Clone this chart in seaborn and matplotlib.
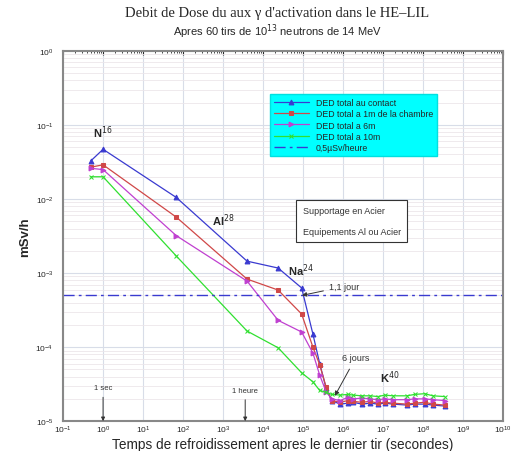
import numpy as np
import pandas as pd
import seaborn as sns
import matplotlib.pyplot as plt
from matplotlib.ticker import LogLocator, NullFormatter

# temps apres le dernier tir (s)
temps = [0.5, 1, 68, 4000, 24000, 93000, 178000, 263000, 380000, 525000,
         850000, 1.35e6, 1.78e6, 3.0e6, 4.8e6, 7.6e6, 1.12e7, 1.78e7,
         4.0e7, 6.3e7, 1.12e8, 1.78e8, 3.55e8]

ded_contact = [0.033, 0.047, 0.0105, 1.45e-3, 1.17e-3, 6.3e-4, 1.5e-4, 6.0e-5,
               2.8e-5, 1.9e-5, 1.7e-5, 1.75e-5, 1.8e-5, 1.7e-5, 1.75e-5, 1.7e-5,
               1.75e-5, 1.7e-5, 1.65e-5, 1.7e-5, 1.7e-5, 1.65e-5, 1.6e-5]
ded_1m = [0.027, 0.029, 5.7e-3, 8.3e-4, 5.9e-4, 2.8e-4, 1.0e-4, 5.8e-5,
          2.9e-5, 1.9e-5, 1.8e-5, 1.9e-5, 1.85e-5, 1.8e-5, 1.85e-5, 1.75e-5,
          1.8e-5, 1.75e-5, 1.7e-5, 1.75e-5, 1.8e-5, 1.7e-5, 1.65e-5]
ded_6m = [0.026, 0.025, 3.2e-3, 7.8e-4, 2.3e-4, 1.6e-4, 8.3e-5, 4.2e-5,
          2.5e-5, 2.0e-5, 1.9e-5, 2.1e-5, 2.0e-5, 2.05e-5, 2.0e-5, 1.95e-5,
          2.0e-5, 1.95e-5, 1.95e-5, 2.0e-5, 2.0e-5, 1.95e-5, 1.9e-5]
ded_10m = [0.020, 0.020, 1.7e-3, 1.65e-4, 9.8e-5, 4.5e-5, 3.4e-5, 2.6e-5,
           2.45e-5, 2.3e-5, 2.25e-5, 2.3e-5, 2.25e-5, 2.2e-5, 2.2e-5, 2.15e-5,
           2.25e-5, 2.2e-5, 2.2e-5, 2.3e-5, 2.35e-5, 2.2e-5, 2.15e-5]
limite = 5e-4  # 0,5 uSv/h en mSv/h

series = [
    ("DED total au contact", ded_contact, "#3a3ad0", "^", 3.5),
    ("DED total a 1m de la chambre", ded_1m, "#d04848", "s", 2.8),
    ("DED total a 6m", ded_6m, "#c040d0", ">", 3.5),
    ("DED total a 10m", ded_10m, "#30e030", "x", 2.8),
]

sns.set_style("white")
plt.rcParams['font.family'] = ['Liberation Sans', 'DejaVu Sans']

fig = plt.figure(figsize=(5.13, 4.52), dpi=100)
ax = fig.add_axes([0.123, 0.066, 0.857, 0.819])

for name, vals, col, mk, ms in series:
    df = pd.DataFrame({"t": temps, "d": vals})
    sns.lineplot(data=df, x="t", y="d", ax=ax, color=col, marker=mk,
                 markersize=ms, markeredgecolor=col, markerfacecolor=col,
                 linewidth=0.9, label=name)
ax.axhline(limite, color="#3a3ad0", linestyle=(0, (8, 3, 2, 3)), linewidth=1,
           label="0,5\u00b5Sv/heure")

ax.set_xscale("log")
ax.set_yscale("log")
ax.set_xlim(1e-1, 1e10)
ax.set_ylim(1e-5, 1)
ax.xaxis.set_major_locator(LogLocator(base=10, numticks=20))
ax.xaxis.set_minor_locator(LogLocator(base=10, subs=np.arange(2, 10), numticks=20))
ax.yaxis.set_minor_locator(LogLocator(base=10, subs=np.arange(2, 10), numticks=20))
ax.xaxis.set_minor_formatter(NullFormatter())
ax.yaxis.set_minor_formatter(NullFormatter())
ax.grid(True, axis="both", which="major", color="#d8dde8", linewidth=0.8)
ax.grid(True, axis="y", which="minor", color="#ece6ea", linewidth=0.6)
ax.tick_params(which="both", direction="in", top=True, labelsize=6, length=3)
ax.tick_params(axis="x", pad=1.5)
ax.tick_params(axis="y", pad=7)
ax.tick_params(which="minor", length=1.5)
for s in ax.spines.values():
    s.set_color("#888888")
    s.set_linewidth(1.5)

ax.set_xlabel("Temps de refroidissement apres le dernier tir (secondes)", fontsize=9.8)
ax.xaxis.set_label_coords(0.5, -0.044)
ax.set_ylabel("mSv/h", fontsize=9.5, fontweight="bold", labelpad=3)

leg = ax.legend(loc="upper left", bbox_to_anchor=(0.46, 0.895), fontsize=6.3,
                frameon=True, fancybox=False, handlelength=4,
                borderpad=0.45, labelspacing=0.25)
leg.get_frame().set_facecolor("#00ffff")
leg.get_frame().set_edgecolor("#00e0e0")
leg.get_frame().set_alpha(1)

ax.text(0.545, 0.54, "Supportage en Acier\n\nEquipements Al ou Acier", transform=ax.transAxes,
        fontsize=6.5, va="center", ha="left", color="#333333",
        bbox=dict(boxstyle="square,pad=0.7", facecolor="white", edgecolor="#333333", linewidth=0.8))

ax.text(1, 0.08, r"N$^{16}$", fontsize=8, fontweight="bold", ha="center", va="center")
ax.text(1000, 5.2e-3, r"Al$^{28}$", fontsize=8, fontweight="bold", ha="center", va="center")
ax.text(9e4, 1.1e-3, r"Na$^{24}$", fontsize=8, fontweight="bold", ha="center", va="center")
ax.text(1.5e7, 4e-5, r"K$^{40}$", fontsize=8, fontweight="bold", ha="center", va="center")

ax.annotate("1,1 jour", xy=(9.5e4, 5e-4), xytext=(1.1e6, 6.6e-4), fontsize=6.5,
            color="#333333", ha="center", va="center",
            arrowprops=dict(arrowstyle="-|>", color="#333333", lw=0.7,
                            shrinkA=2, shrinkB=0))
ax.annotate("6 jours", xy=(6.3e5, 2.2e-5), xytext=(2.1e6, 7.2e-5), fontsize=6.5,
            color="#333333", ha="center", va="center",
            arrowprops=dict(arrowstyle="-|>", color="#333333", lw=0.7,
                            shrinkA=3, shrinkB=0))
ax.annotate("1 sec", xy=(1, 1e-5), xytext=(1, 2.7e-5), fontsize=5.5, ha="center",
            color="#333333", arrowprops=dict(arrowstyle="-|>", color="#333333", lw=0.7,
                                             shrinkA=2, shrinkB=0))
ax.annotate("1 heure", xy=(3600, 1e-5), xytext=(3600, 2.5e-5), fontsize=5.5, ha="center",
            color="#333333", arrowprops=dict(arrowstyle="-|>", color="#333333", lw=0.7,
                                             shrinkA=2, shrinkB=0))

fig.text(0.54, 0.962, "Debit de Dose du aux \u03b3 d'activation dans le HE\u2013LIL",
         ha="center", fontsize=10.5, family=["Liberation Serif", "DejaVu Serif"])
fig.text(0.54, 0.922, r"Apres 60 tirs de 10$^{13}$ neutrons de 14 MeV",
         ha="center", fontsize=8)

fig.savefig("out.png", dpi=100)
